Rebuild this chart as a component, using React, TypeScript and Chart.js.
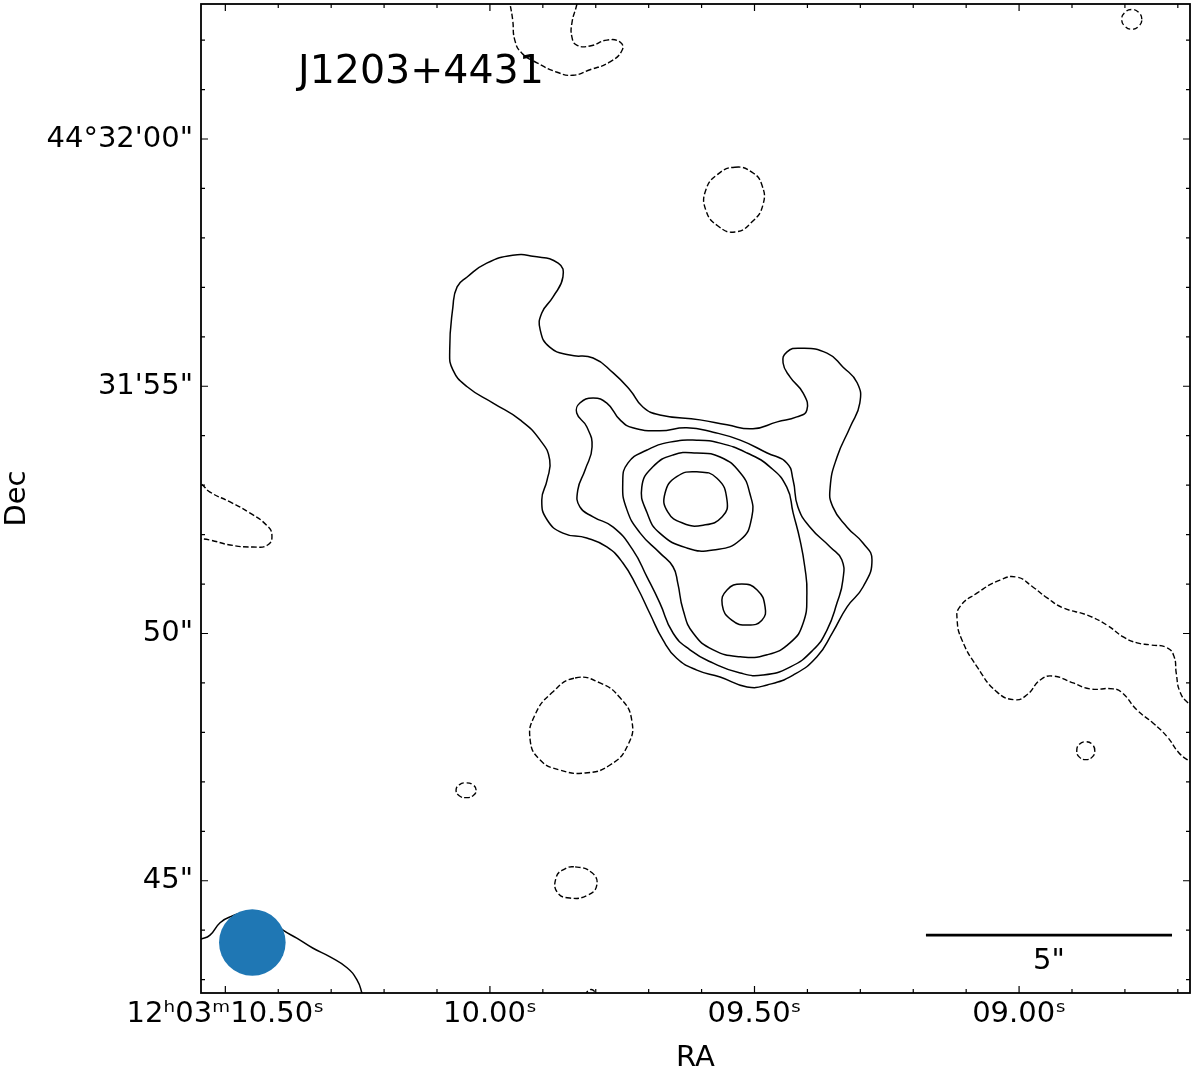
import React, { useEffect, useRef } from "react";
import { Chart, registerables } from "chart.js";
Chart.register(...registerables);

type P = [number, number];

// Axes (RA in seconds of 12h03m, Dec in arcsec past 44°31')
const raRange: P = [8.677, 10.546];
const decRange: P = [42.73, 62.73];
const xTickValues = [10.5, 10.0, 9.5, 9.0];
const xTickLabels = ["12ʰ03ᵐ10.50ˢ", "10.00ˢ", "09.50ˢ", "09.00ˢ"];
const xMinorTicks = [8.7, 8.8, 8.9, 9.0, 9.1, 9.2, 9.3, 9.4, 9.5, 9.6, 9.7, 9.8, 9.9, 10.0, 10.1, 10.2, 10.3, 10.4, 10.5];
const yTickValues = [45, 50, 55, 60];
const yTickLabels = ['45"', '50"', "31'55\"", "44°32'00\""];
const yMinorTicks = [43, 44, 45, 46, 47, 48, 49, 50, 51, 52, 53, 54, 55, 56, 57, 58, 59, 60, 61, 62];
const titleText = "J1203+4431";
const xAxisTitle = "RA";
const yAxisTitle = "Dec";
const scaleBarLabel = '5"';

// Solid (positive) contours
const level1: P[] = [[10.062,57.01],[10.070,56.60],[10.076,55.73],[10.070,55.33],[10.043,54.99],[9.994,54.66],[9.943,54.32],[9.905,53.91],[9.887,53.51],[9.892,53.10],[9.902,52.70],[9.892,52.30],[9.862,52.03],[9.817,51.93],[9.779,51.75],[9.749,51.43],[9.722,50.94],[9.698,50.41],[9.673,49.87],[9.647,49.50],[9.609,49.26],[9.565,49.12],[9.514,48.92],[9.476,48.96],[9.427,49.16],[9.382,49.53],[9.352,50.03],[9.325,50.54],[9.295,50.94],[9.278,51.49],[9.295,51.83],[9.325,52.15],[9.352,52.56],[9.357,52.96],[9.344,53.57],[9.319,54.18],[9.301,54.66],[9.306,55.07],[9.333,55.39],[9.363,55.67],[9.414,55.77],[9.439,55.69],[9.446,55.47],[9.433,55.19],[9.408,54.86],[9.401,54.52],[9.420,54.38],[9.457,54.28],[9.503,54.14],[9.552,54.22],[9.603,54.32],[9.679,54.42],[9.711,54.58],[9.735,54.92],[9.767,55.27],[9.805,55.57],[9.849,55.63],[9.887,55.79],[9.905,56.14],[9.902,56.48],[9.881,56.80],[9.862,57.21],[9.871,57.49],[9.919,57.63],[9.957,57.65],[10.006,57.49],[10.043,57.21]];
const level2: P[] = [[9.805,54.76],[9.779,54.66],[9.754,54.32],[9.730,54.16],[9.679,54.10],[9.628,54.16],[9.578,54.07],[9.527,53.91],[9.476,53.65],[9.439,53.45],[9.427,53.10],[9.418,52.56],[9.395,52.15],[9.357,51.75],[9.335,51.49],[9.333,51.08],[9.344,50.62],[9.363,50.07],[9.389,49.67],[9.433,49.32],[9.484,49.16],[9.527,49.20],[9.578,49.40],[9.622,49.67],[9.654,50.01],[9.679,50.62],[9.703,51.14],[9.730,51.69],[9.767,52.15],[9.805,52.36],[9.830,52.56],[9.834,52.90],[9.820,53.31],[9.807,53.77],[9.817,54.18],[9.836,54.46],[9.830,54.66]];
const level3: P[] = [[9.609,53.91],[9.565,53.85],[9.514,53.65],[9.471,53.37],[9.439,52.96],[9.427,52.44],[9.414,51.89],[9.405,51.35],[9.401,50.82],[9.408,50.21],[9.433,49.81],[9.476,49.57],[9.527,49.53],[9.578,49.67],[9.616,50.01],[9.635,50.48],[9.645,51.02],[9.654,51.35],[9.679,51.63],[9.716,52.03],[9.741,52.50],[9.749,53.04],[9.739,53.45],[9.703,53.71],[9.660,53.87]];
const level4: P[] = [[9.609,53.65],[9.565,53.57],[9.527,53.25],[9.509,52.84],[9.505,52.36],[9.527,51.89],[9.578,51.69],[9.628,51.73],[9.679,52.03],[9.703,52.44],[9.713,52.96],[9.692,53.37],[9.654,53.61]];
const level5Core: P[] = [[9.669,52.84],[9.647,53.17],[9.609,53.27],[9.571,53.14],[9.552,52.70],[9.561,52.36],[9.597,52.19],[9.635,52.23],[9.664,52.46]];
const level5Lobe: P[] = [[9.524,51.00],[9.495,50.88],[9.480,50.54],[9.486,50.27],[9.512,50.17],[9.543,50.27],[9.561,50.58],[9.552,50.88]];
const cornerArc: P[] = [[10.56,43.78],[10.546,43.82],[10.529,43.90],[10.510,44.15],[10.491,44.27],[10.454,44.37],[10.420,44.25],[10.391,44.00],[10.365,43.84],[10.335,43.64],[10.302,43.46],[10.270,43.24],[10.251,42.99],[10.242,42.73],[10.240,42.60]];

// Dashed (negative) contours
const negTop: P[] = [[9.964,62.85],[9.962,62.73],[9.957,62.41],[9.953,62.00],[9.940,61.74],[9.911,61.54],[9.873,61.35],[9.843,61.29],[9.811,61.40],[9.773,61.56],[9.750,61.80],[9.754,61.96],[9.779,62.00],[9.811,61.88],[9.836,61.90],[9.845,62.06],[9.845,62.35],[9.836,62.71],[9.834,62.85]];
const negTopRight: P[] = [[8.768,62.42],[8.774,62.56],[8.787,62.62],[8.800,62.56],[8.806,62.42],[8.800,62.28],[8.787,62.22],[8.774,62.28]];
const negNorth: P[] = [[9.537,59.43],[9.505,59.33],[9.486,59.07],[9.484,58.67],[9.505,58.32],[9.537,58.12],[9.569,58.24],[9.592,58.56],[9.592,58.97],[9.569,59.29]];
const negLeft: P[] = [[10.558,53.10],[10.545,53.02],[10.529,52.86],[10.491,52.66],[10.454,52.44],[10.422,52.19],[10.412,51.99],[10.420,51.79],[10.448,51.75],[10.491,51.79],[10.529,51.89],[10.558,51.93]];
const negEast: P[] = [[8.667,48.53],[8.681,48.60],[8.696,48.82],[8.703,49.20],[8.707,49.53],[8.720,49.71],[8.752,49.77],[8.777,49.81],[8.803,49.93],[8.834,50.17],[8.871,50.37],[8.917,50.52],[8.947,50.72],[8.974,50.94],[9.004,51.14],[9.036,51.08],[9.079,50.82],[9.112,50.54],[9.117,50.27],[9.108,49.87],[9.079,49.32],[9.042,48.82],[9.008,48.66],[8.985,48.76],[8.960,49.06],[8.936,49.14],[8.898,49.00],[8.866,48.88],[8.822,48.88],[8.805,48.80],[8.777,48.45],[8.747,48.19],[8.720,47.91],[8.699,47.60],[8.681,47.44],[8.667,47.38]];
const negEastSmall: P[] = [[8.857,47.63],[8.862,47.76],[8.874,47.81],[8.886,47.76],[8.891,47.63],[8.886,47.50],[8.874,47.45],[8.862,47.50]];
const negSouth: P[] = [[9.839,49.10],[9.792,49.00],[9.754,48.70],[9.732,48.25],[9.739,47.75],[9.773,47.34],[9.820,47.18],[9.868,47.24],[9.905,47.44],[9.924,47.85],[9.915,48.35],[9.883,48.80]];
const negSouthWest: P[] = [[10.026,46.83],[10.032,46.94],[10.045,46.98],[10.058,46.94],[10.064,46.83],[10.058,46.72],[10.045,46.68],[10.032,46.72]];
const negSouthLow: P[] = [[9.839,45.28],[9.807,45.16],[9.798,44.91],[9.815,44.71],[9.849,44.65],[9.873,44.77],[9.875,45.06],[9.862,45.22]];
const negBottomEdge: P[] = [[9.819,42.67],[9.815,42.77],[9.805,42.79],[9.800,42.67]];

// Beam and scale bar
const beamCenter: P = [10.449, 43.75];
const beamRadiusPx = 33.3;
const scaleBar: P[] = [[9.176, 43.90], [8.711, 43.90]];

const toXY = (p: P[]) => p.map(([x, y]) => ({ x, y }));

const FONT = "'DejaVu Sans'";

export default function App() {
  const ref = useRef<HTMLCanvasElement | null>(null);
  useEffect(() => {
    if (!ref.current) return;
    Chart.defaults.font.family = FONT;
    const solid = (p: P[], loop: boolean) => ({ data: toXY(p), closedLoop: loop, showLine: true, pointRadius: 0, borderColor: "#000", borderWidth: 1.5, tension: 0.5, fill: false });
    const dashed = (p: P[], loop: boolean) => ({ ...solid(p, loop), borderWidth: 1.4, borderDash: [5.5, 2.5] });
    const noPad = (s: any) => { s.paddingLeft = 0; s.paddingRight = 0; s.paddingTop = 0; s.paddingBottom = 0; };

    // close contour paths smoothly (as a radar line does)
    const loopPlugin = {
      id: "loopContours",
      afterDatasetUpdate(chart: any, args: any) {
        const ds = chart.data.datasets[args.index];
        if (!ds || !ds.closedLoop) return;
        const line = args.meta.dataset;
        if (!line) return;
        line._loop = true;
        line._fullLoop = true;
        line._segments = undefined;
        line._path = undefined;
        line._pointsUpdated = false;
      },
    };

    const overlay = {
      id: "overlay",
      afterDatasetsDraw(chart: any) {
        const { ctx, chartArea: a, scales } = chart;
        const xs = scales.x, ys = scales.y;
        ctx.save();
        ctx.strokeStyle = "#000";
        ctx.lineWidth = 1.2;
        ctx.beginPath();
        for (const v of xMinorTicks) {
          const px = xs.getPixelForValue(v);
          if (px < a.left || px > a.right) continue;
          const major = xTickValues.some((t) => Math.abs(t - v) < 1e-6);
          const len = major ? 7 : 4;
          ctx.moveTo(px, a.bottom); ctx.lineTo(px, a.bottom - len);
          ctx.moveTo(px, a.top); ctx.lineTo(px, a.top + len);
        }
        for (const v of yMinorTicks) {
          const py = ys.getPixelForValue(v);
          if (py < a.top || py > a.bottom) continue;
          const major = yTickValues.some((t) => Math.abs(t - v) < 1e-6);
          const len = major ? 7 : 4;
          ctx.moveTo(a.left, py); ctx.lineTo(a.left + len, py);
          ctx.moveTo(a.right, py); ctx.lineTo(a.right - len, py);
        }
        ctx.stroke();
        ctx.lineWidth = 1.8;
        ctx.strokeRect(a.left, a.top, a.right - a.left, a.bottom - a.top);

        ctx.fillStyle = "#000";
        ctx.textBaseline = "alphabetic";
        ctx.textAlign = "left";
        ctx.font = `39.5px ${FONT}`;
        ctx.fillText(titleText, a.left + 97, a.top + 79);

        ctx.textAlign = "center";
        ctx.font = `29px ${FONT}`;
        const sx = (xs.getPixelForValue(scaleBar[0][0]) + xs.getPixelForValue(scaleBar[1][0])) / 2;
        const sy = ys.getPixelForValue(scaleBar[0][1]);
        ctx.fillText(scaleBarLabel, sx, sy + 34);
        ctx.restore();
      },
    };

    const chart = new Chart(ref.current, {
      type: "scatter",
      data: {
        datasets: [
          { data: toXY([beamCenter]), pointRadius: beamRadiusPx, backgroundColor: "#1f77b4", borderWidth: 0, showLine: false } as any,
          { data: toXY(scaleBar), showLine: true, pointRadius: 0, borderColor: "#000", borderWidth: 2.6, tension: 0 },
          solid(level1, true),
          solid(level2, true),
          solid(level3, true),
          solid(level4, true),
          solid(level5Core, true),
          solid(level5Lobe, true),
          solid(cornerArc, false),
          dashed(negTop, false),
          dashed(negTopRight, true),
          dashed(negNorth, true),
          dashed(negLeft, false),
          dashed(negEast, false),
          dashed(negEastSmall, true),
          dashed(negSouth, true),
          dashed(negSouthWest, true),
          dashed(negSouthLow, true),
          dashed(negBottomEdge, false),
        ],
      },
      options: {
        responsive: false,
        animation: false,
        devicePixelRatio: 1,
        events: [],
        layout: { autoPadding: false, padding: { left: 0, right: 10, top: 4, bottom: 0 } },
        elements: { line: { capBezierPoints: false } },
        plugins: { legend: { display: false }, tooltip: { enabled: false } },
        scales: {
          x: {
            type: "linear",
            reverse: true,
            min: raRange[0],
            max: raRange[1],
            grid: { display: false, drawTicks: false },
            border: { display: false },
            afterBuildTicks: (s: any) => { s.ticks = xTickValues.map((v) => ({ value: v })); },
            afterFit: (s: any) => { s.height = 79; noPad(s); },
            ticks: {
              autoSkip: false,
              maxRotation: 0,
              padding: 4,
              color: "#000",
              font: { size: 29, family: FONT },
              callback: (v: any) => {
                const i = xTickValues.findIndex((t) => Math.abs(t - Number(v)) < 1e-6);
                return i >= 0 ? xTickLabels[i] : "";
              },
            },
            title: { display: true, text: xAxisTitle, color: "#000", font: { size: 29, family: FONT }, padding: { top: 0, bottom: -4 } },
          },
          y: {
            type: "linear",
            min: decRange[0],
            max: decRange[1],
            grid: { display: false, drawTicks: false },
            border: { display: false },
            afterBuildTicks: (s: any) => { s.ticks = yTickValues.map((v) => ({ value: v })); },
            afterFit: (s: any) => { s.width = 201; noPad(s); },
            ticks: {
              autoSkip: false,
              padding: 8,
              color: "#000",
              font: { size: 29, family: FONT },
              callback: (v: any) => {
                const i = yTickValues.findIndex((t) => Math.abs(t - Number(v)) < 1e-6);
                return i >= 0 ? yTickLabels[i] : "";
              },
            },
            title: { display: true, text: yAxisTitle, color: "#000", font: { size: 29, family: FONT }, padding: 0 },
          },
        },
      },
      plugins: [loopPlugin, overlay],
    } as any);
    return () => chart.destroy();
  }, []);

  return (
    <div style={{ position: "absolute", left: 0, top: 0, width: 1200, height: 1072, background: "#fff" }}>
      <canvas ref={ref} width={1200} height={1072} style={{ display: "block" }} />
    </div>
  );
}
